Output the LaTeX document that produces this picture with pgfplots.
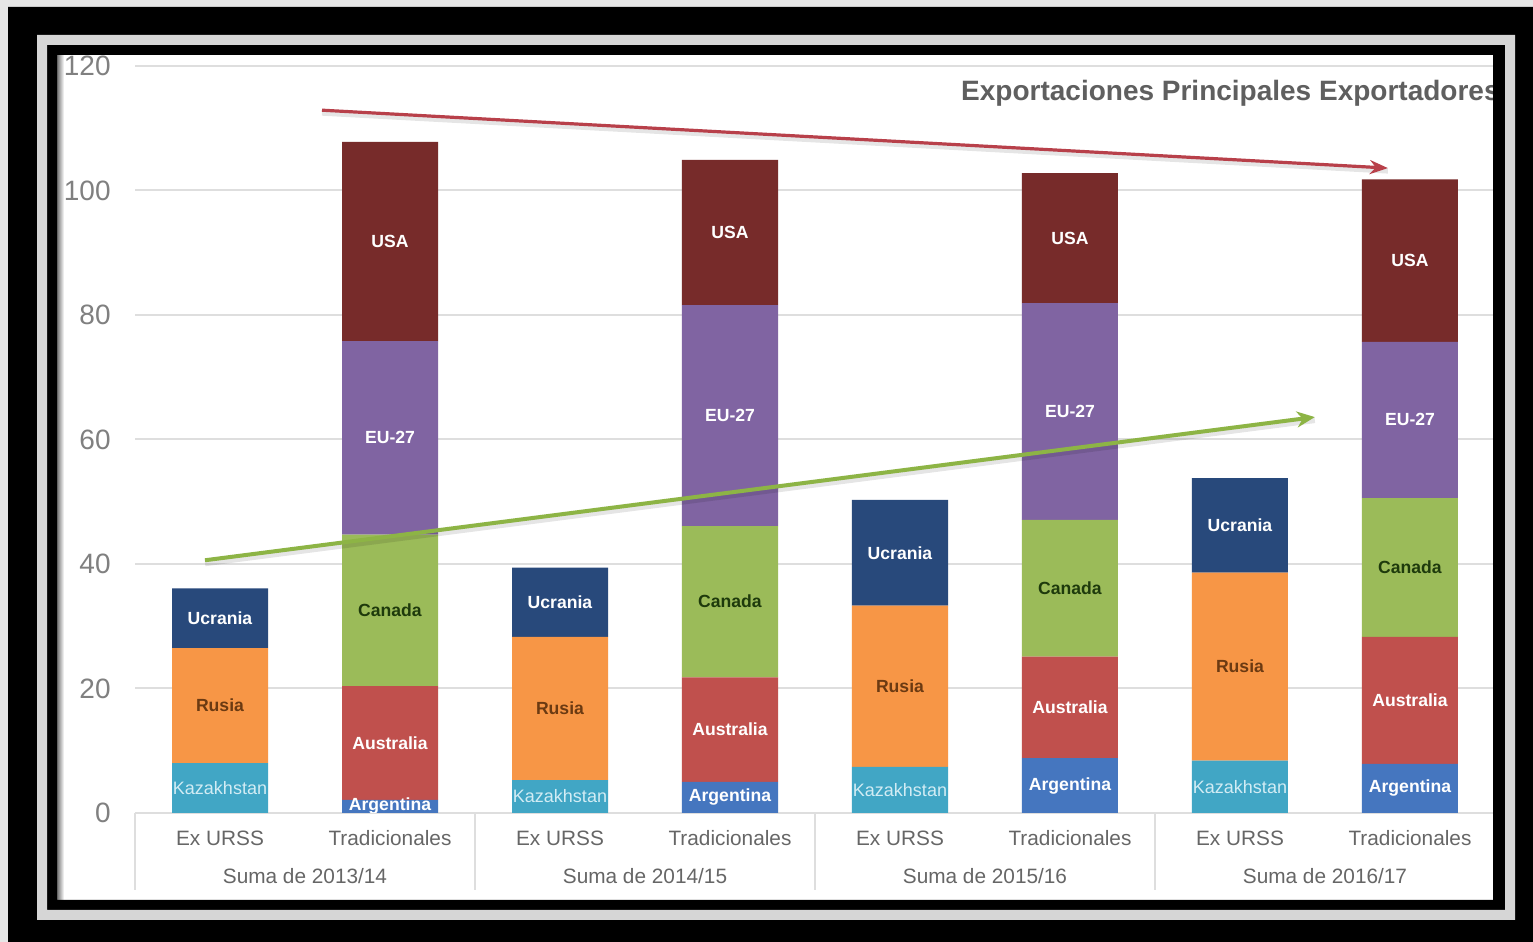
\documentclass[border=0pt]{standalone}
\usepackage{pgfplots}
\usepackage{pgfplotstable}
\pgfplotsset{compat=1.18}
\usepackage{fontspec}
\setmainfont{Liberation Sans}
\usetikzlibrary{arrows.meta}
\definecolor{bggray}{HTML}{E6E6E6}
\definecolor{stripe}{HTML}{D6D6D6}
\definecolor{gridgray}{HTML}{DEDEDE}
\definecolor{tickgray}{HTML}{808080}
\definecolor{labgray}{HTML}{666666}
\definecolor{titlegray}{HTML}{5F5F5F}
\definecolor{kaz}{HTML}{41A6C5}
\definecolor{rus}{HTML}{F79646}
\definecolor{ucr}{HTML}{28497B}
\definecolor{arg}{HTML}{4576BF}
\definecolor{aus}{HTML}{C0504D}
\definecolor{can}{HTML}{9BBB59}
\definecolor{eu}{HTML}{8064A2}
\definecolor{usa}{HTML}{772B2A}
\definecolor{redarrow}{HTML}{B8404A}
\definecolor{greenarrow}{HTML}{8DB445}
\definecolor{rustxt}{HTML}{6B3A12}
\definecolor{cantxt}{HTML}{1E3A0C}
\definecolor{kaztxt}{HTML}{D2ECF4}
\tikzset{
  seglab/.style={font=\bfseries\fontsize{8.8}{10}\selectfont, inner sep=0pt, text=white},
  kazlab/.style={font=\fontsize{9}{10}\selectfont, inner sep=0pt, text=kaztxt},
  grplab/.style={anchor=base, inner sep=0pt, text=labgray, font=\fontsize{10.4}{12}\selectfont, yshift=-35.5pt},
  sep/.style={draw=gridgray, line width=1pt},
}

\pgfplotstableread{
x Kaz Rus Ucr Arg Aus Can EU USA
0 8.0 18.5 9.6 0 0 0 0 0
1 0 0 0 2.1 18.3 24.3 31.1 32.0
2 5.3 23.0 11.1 0 0 0 0 0
3 0 0 0 5.0 16.8 24.3 35.5 23.3
4 7.4 25.9 17.0 0 0 0 0 0
5 0 0 0 8.8 16.3 22.0 34.8 20.9
6 8.4 30.2 15.2 0 0 0 0 0
7 0 0 0 7.9 20.4 22.3 25.1 26.1
}\datatable

\pgfplotstableread{
x y
0.6 112.9
6.87 103.6
}\redtrend
\pgfplotstableread{
x y
-0.088 40.6
6.44 63.6
}\greentrend

\begin{document}
\begin{tikzpicture}
\useasboundingbox (0pt,0pt) rectangle (766.5pt,471pt);
\fill[bggray] (0pt,0pt) rectangle (766.5pt,471pt);
\fill[black] (4pt,0pt) rectangle (766.5pt,467.5pt);
\fill[white] (28.5pt,21pt) rectangle (746.5pt,443.5pt);
\shade[left color=black!55, right color=white] (28.5pt,21pt) rectangle (32pt,443.5pt);
\begin{axis}[
  at={(67.5pt,64.5pt)}, anchor=south west,
  width=680pt, height=373.5pt, scale only axis,
  xmin=-0.5, xmax=7.5, ymin=0, ymax=120,
  ybar stacked, bar width=48pt,
  xtick={0,...,7},
  xticklabels={Ex URSS,Tradicionales,Ex URSS,Tradicionales,Ex URSS,Tradicionales,Ex URSS,Tradicionales},
  ytick={0,20,...,120},
  ymajorgrids, grid style={draw=gridgray, line width=1pt},
  axis line style={draw=none}, major tick length=0pt,
  /pgf/number format/assume math mode=true,
  yticklabel style={font=\fontsize{14}{16}\selectfont, text=tickgray, anchor=east, inner sep=0pt, xshift=-12pt},
  xticklabel style={font=\fontsize{10.4}{12}\selectfont, text=labgray, anchor=base, inner sep=0pt, yshift=-16.5pt},
  clip=false,
]
\addplot[fill=kaz, draw=none] table[x=x,y=Kaz]{\datatable};
\addplot[fill=rus, draw=none] table[x=x,y=Rus]{\datatable};
\addplot[fill=ucr, draw=none] table[x=x,y=Ucr]{\datatable};
\addplot[fill=arg, draw=none] table[x=x,y=Arg]{\datatable};
\addplot[fill=aus, draw=none] table[x=x,y=Aus]{\datatable};
\addplot[fill=can, draw=none] table[x=x,y=Can]{\datatable};
\addplot[fill=eu, draw=none] table[x=x,y=EU]{\datatable};
\addplot[fill=usa, draw=none] table[x=x,y=USA]{\datatable};

% group labels and separators
\node[grplab] at (axis cs:0.5,0) {Suma de 2013/14};
\node[grplab] at (axis cs:2.5,0) {Suma de 2014/15};
\node[grplab] at (axis cs:4.5,0) {Suma de 2015/16};
\node[grplab] at (axis cs:6.5,0) {Suma de 2016/17};
\draw[sep] (axis cs:-0.5,0) -- ++(0pt,-38.5pt);
\draw[sep] (axis cs:1.5,0) -- ++(0pt,-38.5pt);
\draw[sep] (axis cs:3.5,0) -- ++(0pt,-38.5pt);
\draw[sep] (axis cs:5.5,0) -- ++(0pt,-38.5pt);
\draw[sep] (axis cs:7.5,0) -- ++(0pt,-38.5pt);
\end{axis}

\begin{axis}[
  at={(67.5pt,64.5pt)}, anchor=south west,
  width=680pt, height=373.5pt, scale only axis,
  xmin=-0.5, xmax=7.5, ymin=0, ymax=120,
  hide axis, clip=false,
]
% Ex URSS labels
\node[kazlab] at (axis cs:0,4.0) {Kazakhstan};
\node[seglab, text=rustxt] at (axis cs:0,17.25) {Rusia};
\node[seglab] at (axis cs:0,31.3) {Ucrania};
\node[kazlab] at (axis cs:2,2.65) {Kazakhstan};
\node[seglab, text=rustxt] at (axis cs:2,16.8) {Rusia};
\node[seglab] at (axis cs:2,33.85) {Ucrania};
\node[kazlab] at (axis cs:4,3.7) {Kazakhstan};
\node[seglab, text=rustxt] at (axis cs:4,20.35) {Rusia};
\node[seglab] at (axis cs:4,41.8) {Ucrania};
\node[kazlab] at (axis cs:6,4.2) {Kazakhstan};
\node[seglab, text=rustxt] at (axis cs:6,23.5) {Rusia};
\node[seglab] at (axis cs:6,46.2) {Ucrania};
% Tradicionales labels
\node[seglab] at (axis cs:1,11.25) {Australia};
\node[seglab, text=cantxt] at (axis cs:1,32.55) {Canada};
\node[seglab] at (axis cs:1,60.25) {EU-27};
\node[seglab] at (axis cs:1,91.8) {USA};
\node[seglab] at (axis cs:3,2.5) {Argentina};
\node[seglab] at (axis cs:3,13.4) {Australia};
\node[seglab, text=cantxt] at (axis cs:3,33.95) {Canada};
\node[seglab] at (axis cs:3,63.85) {EU-27};
\node[seglab] at (axis cs:3,93.25) {USA};
\node[seglab] at (axis cs:5,4.4) {Argentina};
\node[seglab] at (axis cs:5,16.95) {Australia};
\node[seglab, text=cantxt] at (axis cs:5,36.1) {Canada};
\node[seglab] at (axis cs:5,64.5) {EU-27};
\node[seglab] at (axis cs:5,92.35) {USA};
\node[seglab] at (axis cs:7,3.95) {Argentina};
\node[seglab] at (axis cs:7,18.1) {Australia};
\node[seglab, text=cantxt] at (axis cs:7,39.45) {Canada};
\node[seglab] at (axis cs:7,63.15) {EU-27};
\node[seglab] at (axis cs:7,88.75) {USA};

\addplot[black, opacity=0.1, line width=2.5pt, no markers, yshift=-1.5pt] table[x=x,y=y]{\redtrend};
\addplot[black, opacity=0.1, line width=3pt, no markers, yshift=-1.5pt] table[x=x,y=y]{\greentrend};
\addplot[redarrow, line width=1.6pt, no markers, -{Stealth[length=9pt,width=7pt]}] table[x=x,y=y]{\redtrend};
\addplot[greenarrow, line width=2pt, no markers, -{Stealth[length=9pt,width=8pt]}] table[x=x,y=y]{\greentrend};
\end{axis}

% Argentina label of the first Tradicionales bar, clipped at the bar bottom
\begin{scope}
\clip (171pt,64.5pt) rectangle (219pt,80pt);
\node[seglab] at (195pt,67.8pt) {Argentina};
\end{scope}

\node[anchor=base east, inner sep=0pt, text=titlegray, font=\bfseries\fontsize{14}{16}\selectfont] at (750pt,420.5pt) {Exportaciones Principales Exportadores};

% frame on top
\fill[black, even odd rule] (4pt,0pt) rectangle (766.5pt,467.5pt) (28.5pt,21pt) rectangle (746.5pt,443.5pt);
\fill[stripe, even odd rule] (18.5pt,11pt) rectangle (757.5pt,453.5pt) (23.5pt,16pt) rectangle (752.5pt,448.5pt);
\end{tikzpicture}
\end{document}
